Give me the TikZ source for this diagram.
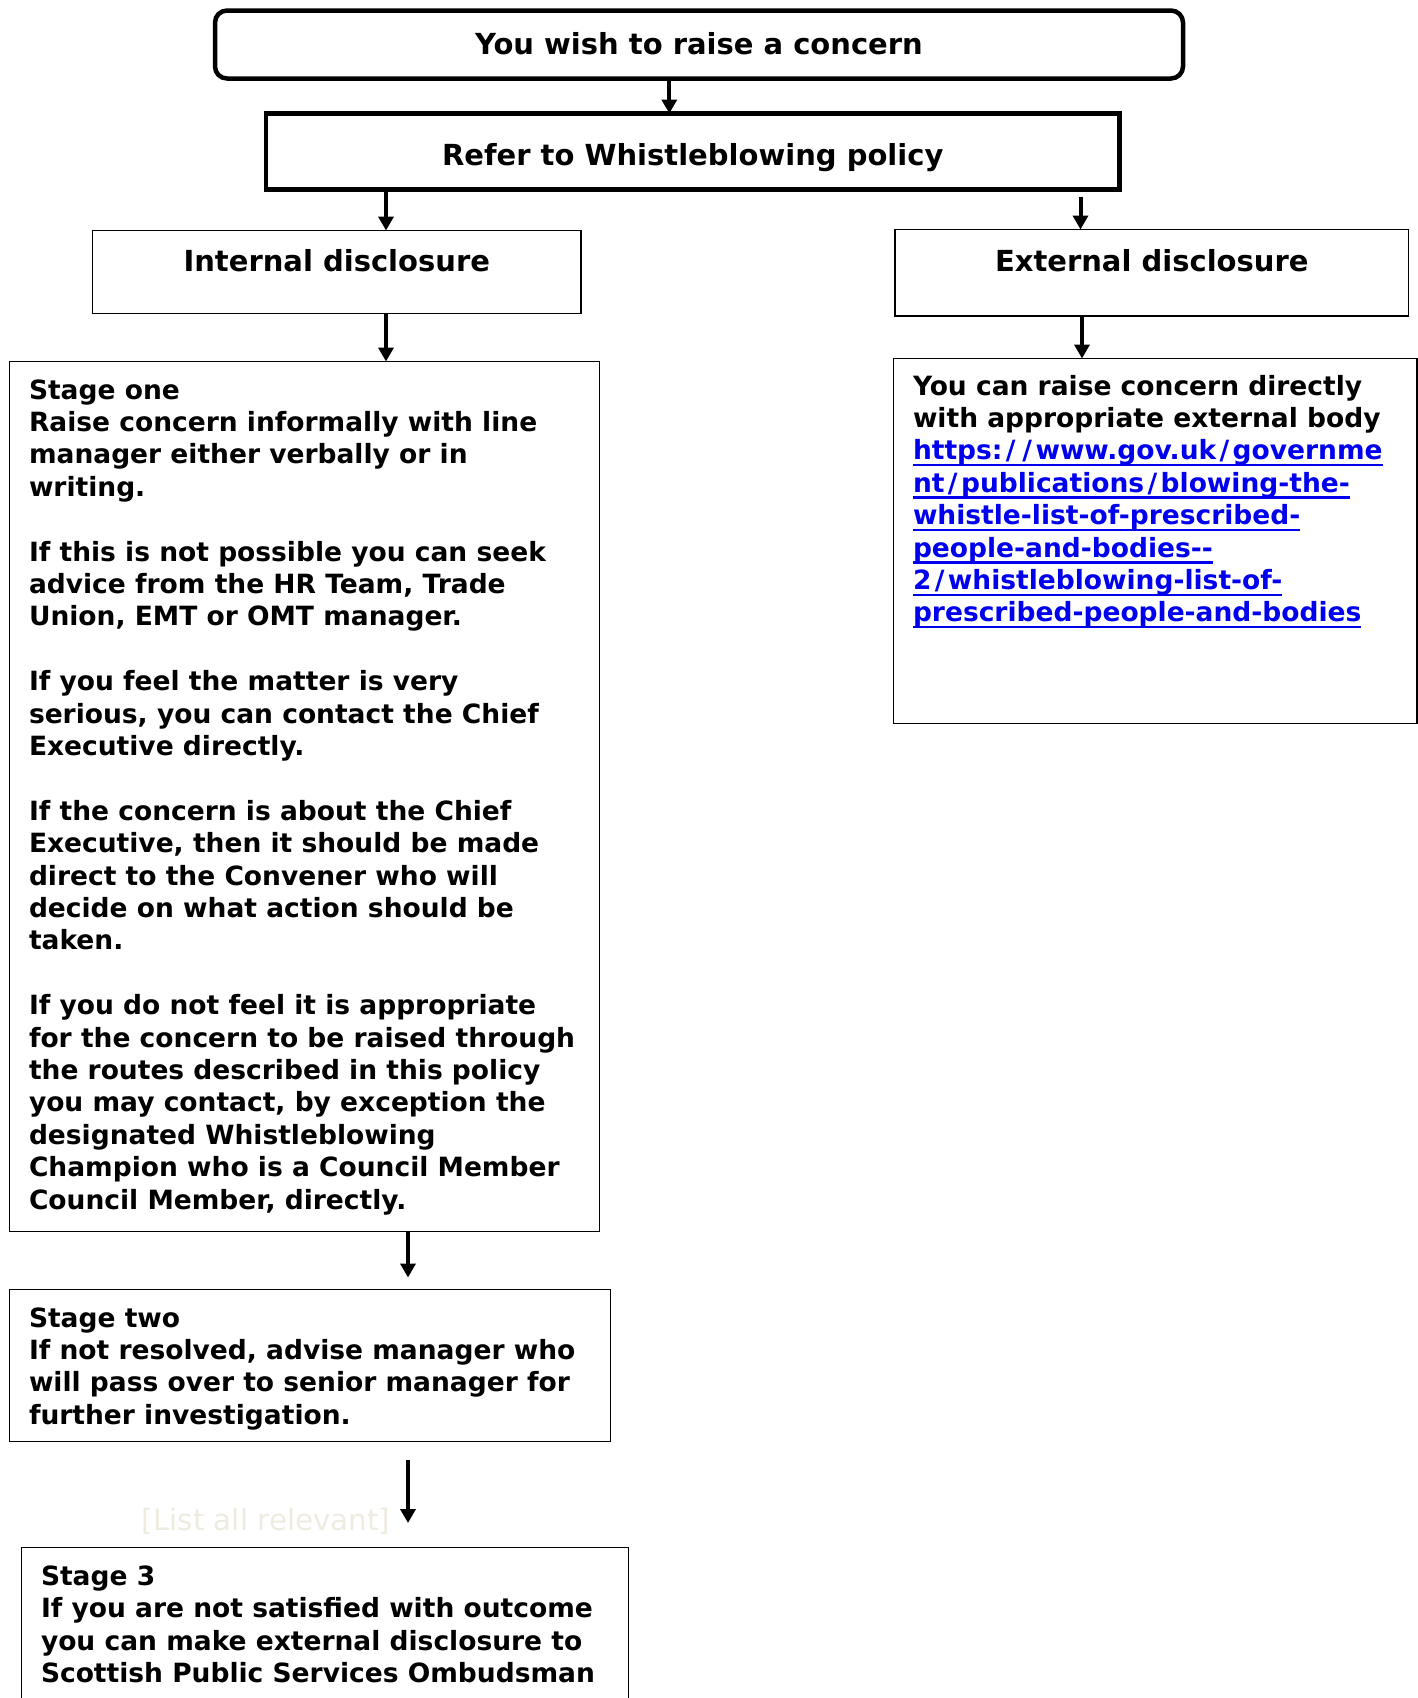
\documentclass[tikz,border=0pt]{standalone}
\usepackage{fontspec}
\setmainfont{DejaVu Sans}
\usetikzlibrary{arrows.meta}

\definecolor{linkblue}{RGB}{0,0,238}
\definecolor{notegrey}{RGB}{238,235,224}

\newcommand{\headfont}{\fontsize{29}{35}\selectfont\bfseries}
\newcommand{\bodyfont}{\fontsize{26.5}{32.4}\selectfont\bfseries}
\newcommand{\boxlines}[3]{\parbox[t][#2][t]{#1}{\leftskip=19.5pt\strut#3}}
\newcommand{\linkline}[1]{{\color{linkblue}\setbox0\hbox{#1}\rlap{\rule[-6.5pt]{\wd0}{2.5pt}}\box0}}
\newcommand{\wsl}{\hbox to 16.5pt{\hss/\hss}}

\begin{document}
\begin{tikzpicture}[x=1pt, y=-1pt, >={Triangle[width=15pt,length=14pt]}]

	\tikzstyle{bigbox}=[draw, line width=4.5pt, anchor=north west, inner sep=0pt, outer sep=0pt, font=\headfont, text height=21pt]
	\tikzstyle{headbox}=[draw, line width=1.5pt, anchor=north west, inner sep=0pt, outer sep=0pt, font=\headfont, text height=21pt]
	\tikzstyle{stagebox}=[draw, line width=1.5pt, anchor=north west, inner xsep=0pt, inner ysep=15pt, outer sep=0pt, font=\bodyfont]
	\tikzstyle{arr}=[->, line width=4pt]

	\clip (0,0) rectangle (1418,1698);

	\node[bigbox, rounded corners=12pt, minimum width=968pt, minimum height=68pt, text depth=2pt] (wish) at (215,10.5) {You wish to raise a concern};
	\node[bigbox, minimum width=853.5pt, minimum height=76pt, text height=28pt, text depth=0pt] (refer) at (266,113.5) {Refer to Whistleblowing policy};
	\node[headbox, minimum width=488.5pt, minimum height=83pt, text depth=22pt] (int) at (92.5,230.5) {Internal disclosure};
	\node[headbox, minimum width=513.5pt, minimum height=86.5pt, text depth=24pt] (ext) at (895,229.5) {External disclosure};

	% Internal route
	\node[stagebox] (one) at (9.5,361.5) {\boxlines{590pt}{840pt}{Stage one\\
		Raise concern informally with line\\
		manager either verbally or in\\
		writing.\\[32.4pt]
		If this is not possible you can seek\\
		advice from the HR Team, Trade\\
		Union, EMT or OMT manager.\\[32.4pt]
		If you feel the matter is very\\
		serious, you can contact the Chief\\
		Executive directly.\\[32.4pt]
		If the concern is about the Chief\\
		Executive, then it should be made\\
		direct to the Convener who will\\
		decide on what action should be\\
		taken.\\[32.4pt]
		If you do not feel it is appropriate\\
		for the concern to be raised through\\
		the routes described in this policy\\
		you may contact, by exception the\\
		designated Whistleblowing\\
		Champion who is a Council Member\\
		Council Member, directly.}};
	\node[stagebox] (two) at (9.5,1289.5) {\boxlines{601pt}{122pt}{Stage two\\
		If not resolved, advise manager who\\
		will pass over to senior manager for\\
		further investigation.}};
	\node[stagebox] (three) at (21.5,1547.5) {\boxlines{607pt}{200pt}{Stage 3\\
		If you are not satisfied with outcome\\
		you can make external disclosure to\\
		Scottish Public Services Ombudsman}};
	\node[font=\fontsize{29.4}{35}\selectfont, text=notegrey, anchor=base west, inner sep=0pt] (note) at (141.5,1530) {[List all relevant]};

	% External route
	\node[stagebox, inner ysep=14pt] (url) at (893.5,358.5) {\boxlines{523.5pt}{337pt}{You can raise concern directly\\
		with appropriate external body\\
		\linkline{https:\wsl\wsl www.gov.uk\wsl governme}\\
		\linkline{nt\wsl publications\wsl blowing-the-}\\
		\linkline{whistle-list-of-prescribed-}\\
		\linkline{people-and-bodies-{}-}\\
		\linkline{2\wsl whistleblowing-list-of-}\\
		\linkline{prescribed-people-and-bodies}}};

	\coordinate (xa) at (669.3,0);
	\coordinate (xb) at (386,0);
	\coordinate (xc) at (1080.5,0);
	\coordinate (xd) at (1082,0);
	\coordinate (xe) at (408,0);

	% From the top
	\draw[arr] (wish.south -| xa) -- (refer.north -| xa);
	\draw[arr] (refer.south -| xb) -- (int.north -| xb);
	\draw[arr, shorten <=7pt] (refer.south -| xc) -- (ext.north -| xc);

	% Down each side
	\draw[arr] (int.south -| xb) -- (one.north -| xb);
	\draw[arr] (ext.south -| xd) -- (url.north -| xd);
	\draw[arr, shorten >=12pt] (one.south -| xe) -- (two.north -| xe);
	\draw[arr, shorten <=18.5pt, shorten >=24.5pt] (two.south -| xe) -- (three.north -| xe);

\end{tikzpicture}
\end{document}
